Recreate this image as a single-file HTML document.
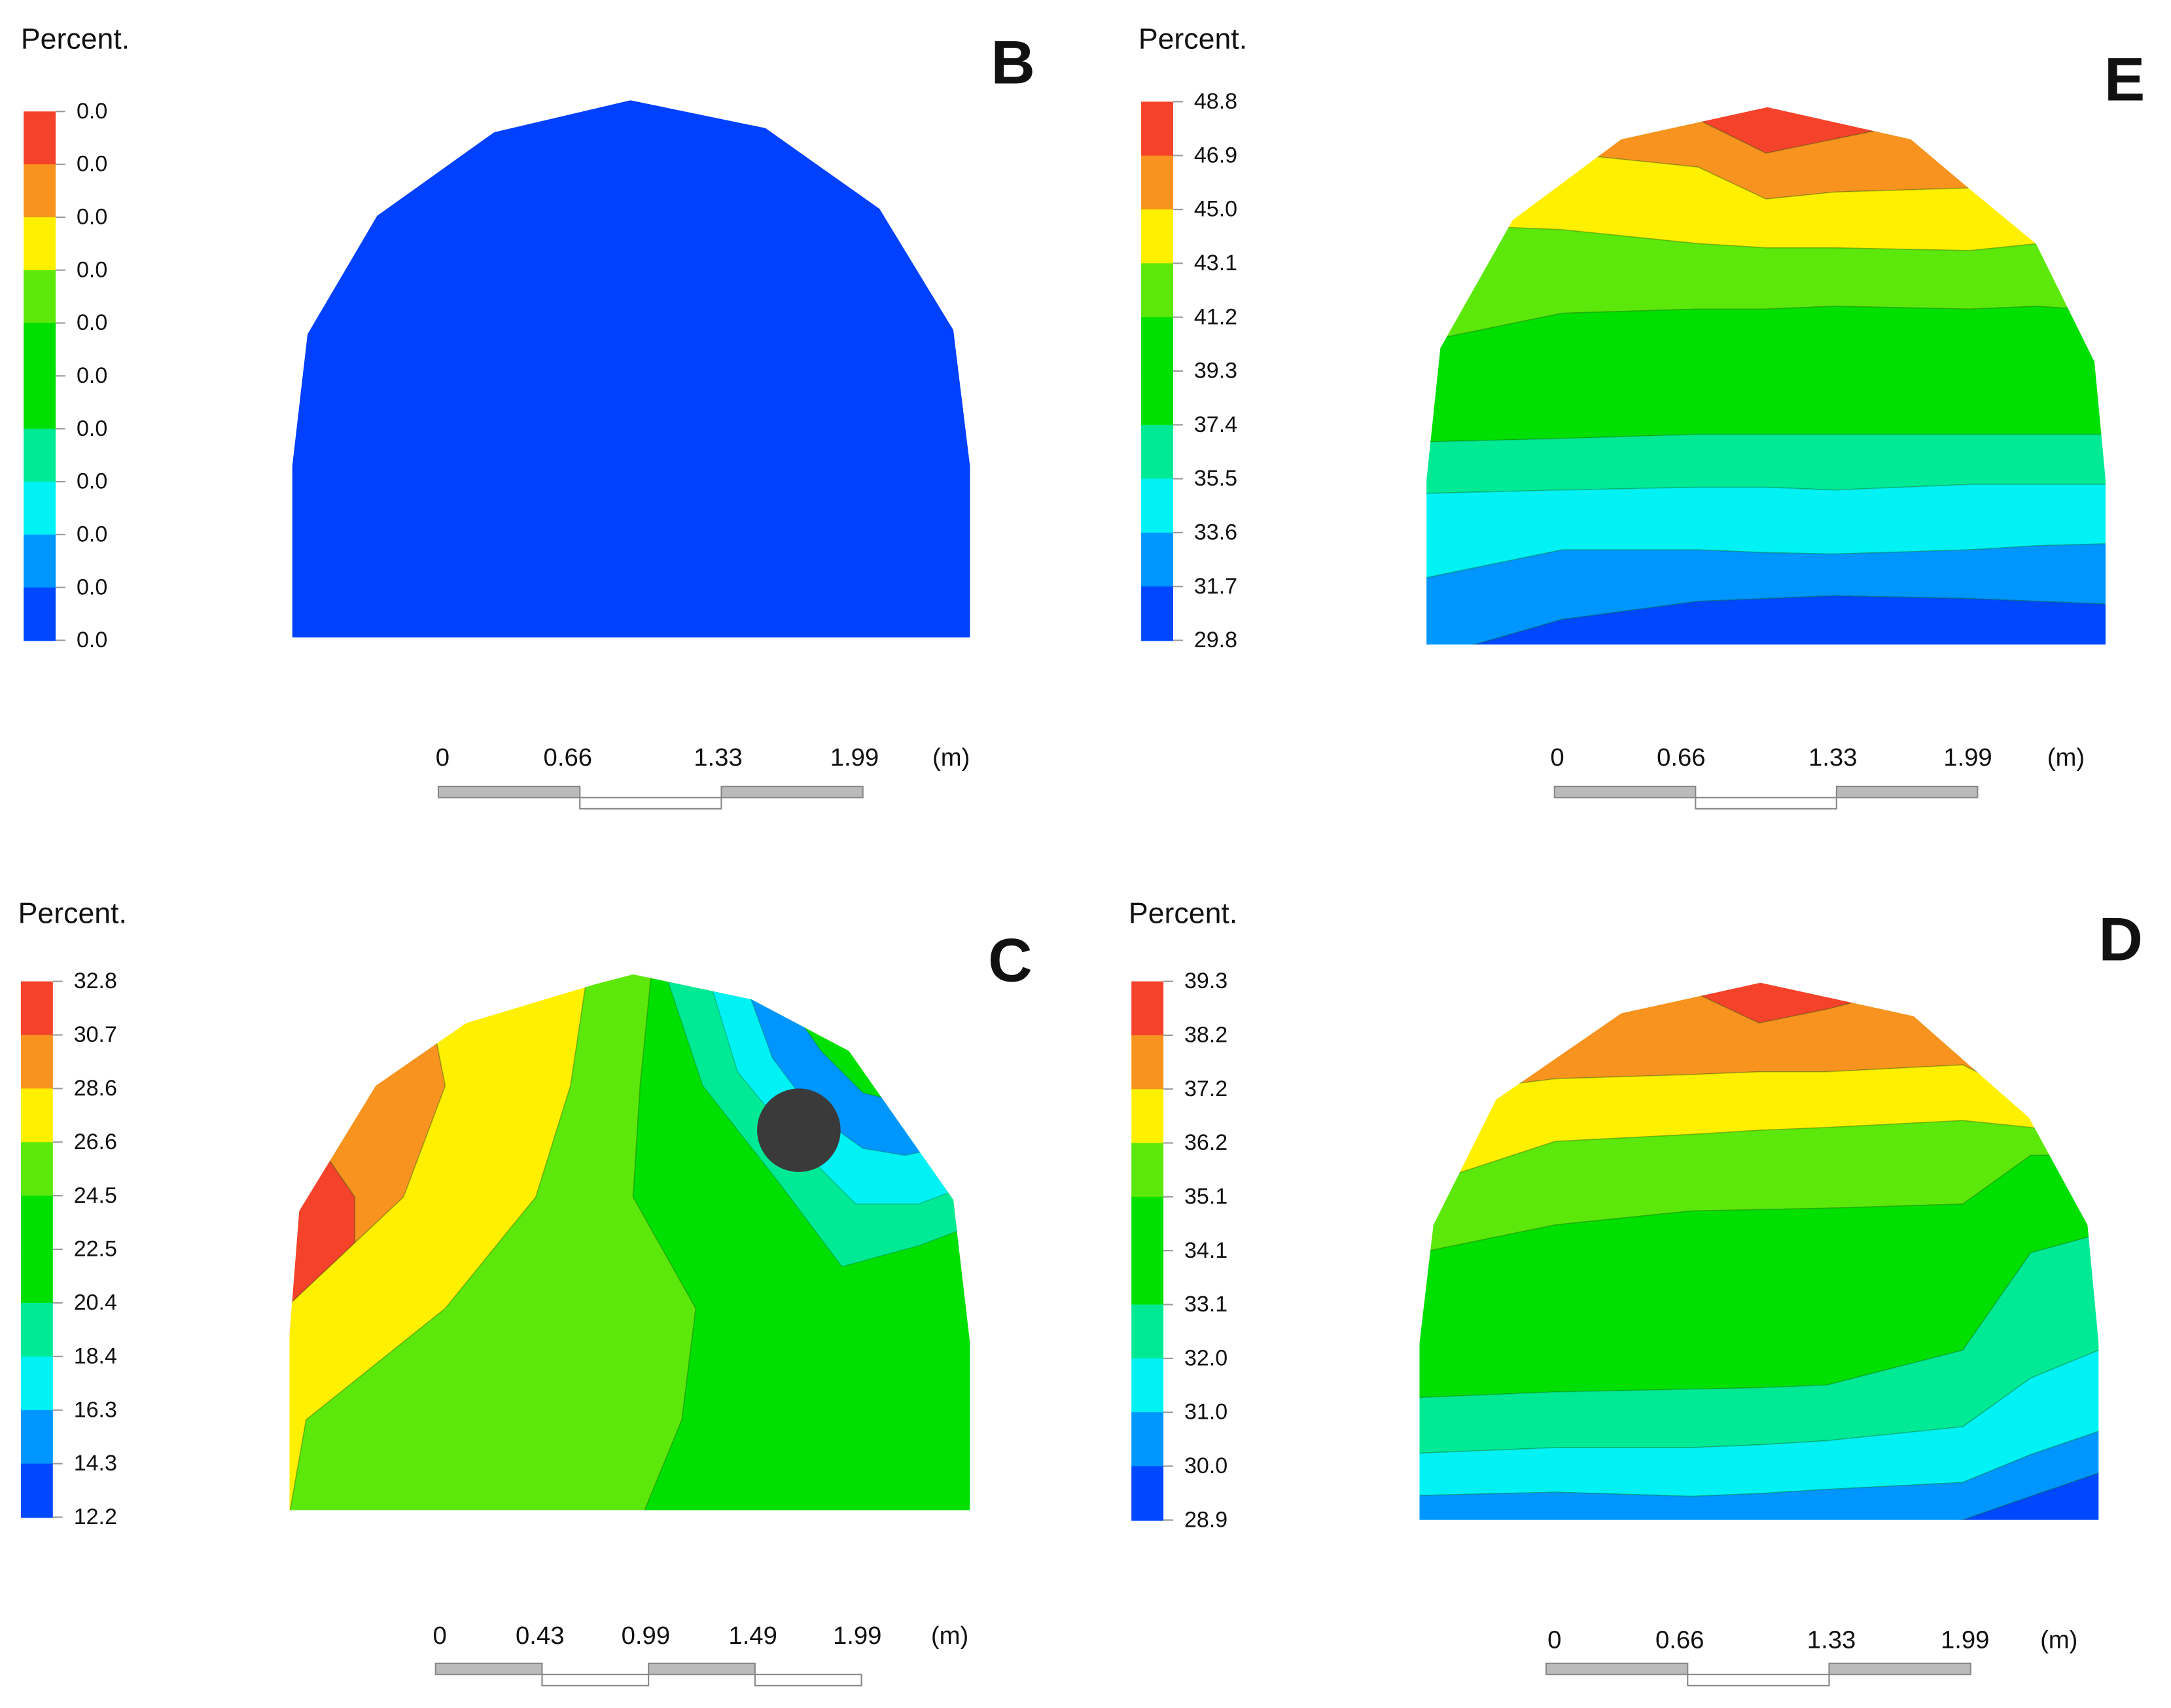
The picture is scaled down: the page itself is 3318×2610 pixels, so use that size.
<!DOCTYPE html>
<html><head><meta charset="utf-8"><style>
html,body{margin:0;padding:0;background:#fff;overflow:hidden;width:3318px;height:2610px}
svg{display:block}
text{font-family:"Liberation Sans",sans-serif}
</style></head><body>
<svg id="fig" width="3318" height="2610" viewBox="0 0 1560 1227" xmlns="http://www.w3.org/2000/svg"></svg>
<script>
const COLORS=['#f5422a','#f7931e','#fff000','#5ce80a','#00e000','#00ea96','#00f2f5','#0096ff','#0048ff'];
const ticksB=['0.0','0.0','0.0','0.0','0.0','0.0','0.0','0.0','0.0','0.0','0.0'];
const ticksE=['48.8','46.9','45.0','43.1','41.2','39.3','37.4','35.5','33.6','31.7','29.8'];
const ticksC=['32.8','30.7','28.6','26.6','24.5','22.5','20.4','18.4','16.3','14.3','12.2'];
const ticksD=['39.3','38.2','37.2','36.2','35.1','34.1','33.1','32.0','31.0','30.0','28.9'];
const fracs=[0,0.2,0.4,0.5,0.6,0.8,0.9,1];
const bandsE=[[60,60,86,110,100,80,60,60],[100,110,120,143,138,135,130,120],[160,165,175,178,178,180,175,175],[250,225,222,222,220,222,220,225],[318,315,312,312,312,312,312,312],[355,352,350,350,352,348,348,348],[420,395,395,397,398,395,392,390],[480,445,432,430,428,430,432,435]];
const bandsD=[[690,690,712,735,725,700,690,690],[790,775,772,770,770,765,790,800],[860,820,815,812,810,805,810,820],[905,880,870,869,868,865,830,830],[1005,1000,998,997,995,970,900,880],[1045,1040,1040,1038,1035,1025,990,960],[1075,1072,1075,1073,1070,1065,1045,1020],[1100,1100,1100,1100,1100,1092,1075,1050]];
const ysC=[700,780,860,940,1020,1085];
const bandsC=[[200,200,255,255,200,200],[300,320,290,205,200,200],[425,410,385,320,220,205],[470,460,455,500,490,455]];
const svg=document.getElementById('fig');
const NS='http://www.w3.org/2000/svg';
function mk(tag,attrs,parent){const e=document.createElementNS(NS,tag);for(const k in attrs)e.setAttribute(k,attrs[k]);(parent||svg).appendChild(e);return e;}
function txt(x,y,s,size,parent,extra){const t=mk('text',Object.assign({x:x,y:y,'font-size':size,fill:'#111'},extra||{}),parent);t.textContent=s;return t;}
const defs=mk('defs',{});
function outline(id,pts){const cp=mk('clipPath',{id:id},defs);mk('polygon',{points:pts.map(p=>p.join(',')).join(' ')},cp);}
outline('clipB',[[210,458],[210,335],[221,240],[271,155],[355,95],[453,72],[550,92],[632,150],[685,237],[697,335],[697,458]]);
outline('clipE',[[1025,463],[1025,345],[1035,250],[1087,158],[1165,100],[1270,77],[1373,100],[1418,138],[1463,175],[1505,260],[1513,345],[1513,463]]);
outline('clipC',[[208,1085],[208,960],[215,870],[270,780],[335,735],[428,707],[455,700],[540,718],[610,755],[685,862],[697,965],[697,1085]]);
outline('clipD',[[1020,1092],[1020,965],[1030,880],[1075,790],[1165,728],[1265,706],[1375,730],[1458,803],[1500,880],[1508,965],[1508,1092]]);

function colorbar(g,x,top,bot,ticks,title,ty){
  const tt=txt(x-2,ty,title,21,g);
  
  const seg=(bot-top)/10;
  const idx=[0,1,2,3,4,4,5,6,7,8];
  for(let i=0;i<10;i++){const r=mk('rect',{x:x,y:top+i*seg,width:23,height:seg+0.5,fill:COLORS[idx[i]]},g);
    
    }
  ticks.forEach((t,i)=>{const y=top+i*seg;mk('line',{x1:x+23,x2:x+30,y1:y,y2:y,stroke:'#999','stroke-width':1},g);
    const l=txt(x+38,y+5,t,16,g);
    
    });
}
function hBands(g,clip,x0,x1,bands){
  const cg=mk('g',{'clip-path':'url(#'+clip+')'},g);
  const X=(f,k)=>x0+(f-(k==0?0.05:0)+(k==fracs.length-1?0.05:0))*(x1-x0);
  for(let i=0;i<=bands.length;i++){
    const upper=i===0?fracs.map(()=>0):bands[i-1];
    const lower=i===bands.length?fracs.map(()=>2000):bands[i];
    const pts=fracs.map((f,k)=>[X(f,k),upper[k]]).concat(fracs.map((f,k)=>[X(f,k),lower[k]]).reverse());
    const p=mk('polygon',{points:pts.map(q=>q.join(',')).join(' '),fill:COLORS[i],stroke:'rgba(0,80,0,0.25)','stroke-width':0.8},cg);
    
    
  }
}
function scalebar(g,x0,x1,y,labels,lx,ly){
  const n=labels.length-1,w=(x1-x0)/n;
  for(let i=0;i<n;i++){mk('rect',{x:x0+i*w,y:i%2?y+8:y,width:w,height:8,fill:i%2?'#fff':'#bbb',stroke:'#888','stroke-width':1},g);}
  labels.forEach((s,i)=>txt(lx[i],ly,s,18,g,{'text-anchor':'middle'}));
  txt(x1+50,ly,'(m)',18,g);
}
function letter(g,x,y,s){const t=txt(x,y,s,44,g,{'font-weight':'bold'});
  
  }

let g=mk('g',{});


colorbar(g,17,80,460,ticksB,'Percent.',35);
let r=mk('rect',{x:200,y:60,width:510,height:410,fill:'#0040ff','clip-path':'url(#clipB)'},g);


letter(g,712,60,'B');
scalebar(g,315,620,565,['0','0.66','1.33','1.99'],[318,408,516,614],550);

g=mk('g',{});


colorbar(g,820,73,460,ticksE,'Percent.',35);
hBands(g,'clipE',1025,1513,bandsE);
letter(g,1512,72,'E');
scalebar(g,1117,1421,565,['0','0.66','1.33','1.99'],[1119,1208,1317,1414],550);

g=mk('g',{});


colorbar(g,15,705,1090,ticksC,'Percent.',663);
{
  const cg=mk('g',{'clip-path':'url(#clipC)'},g);
  for(let i=0;i<=bandsC.length;i++){
    const left=i===0?ysC.map(()=>0):bandsC[i-1];
    const right=i===bandsC.length?ysC.map(()=>800):bandsC[i];
    const pts=ysC.map((y,k)=>[left[k],y+(k==0?-20:0)+(k==ysC.length-1?20:0)]).concat(ysC.map((y,k)=>[right[k],y+(k==0?-20:0)+(k==ysC.length-1?20:0)]).reverse());
    const p=mk('polygon',{points:pts.map(q=>q.join(',')).join(' '),fill:COLORS[i],stroke:'rgba(0,80,0,0.25)','stroke-width':0.8},cg);
    
    
  }
  const spots=[[5,'515,712 550,760 600,812 640,835 700,830 700,880 660,895 605,910 560,850 505,780 480,705'],
               [6,'540,712 570,760 610,800 650,810 700,810 700,850 660,865 615,865 575,825 530,770 510,705'],
               [7,'560,712 590,755 620,785 660,795 700,790 700,820 650,830 620,825 585,800 555,760 535,705'],
               [8,'585,712 610,750 640,785 700,770 700,700 600,700']];
  spots.forEach(s=>{const p=mk('polygon',{points:s[1],fill:COLORS[s[0]],stroke:'rgba(0,80,0,0.25)','stroke-width':0.8},cg);
    
    });
  const c=mk('circle',{cx:574,cy:812,r:30,fill:'#3a3a3a'},g);
  
  
}
letter(g,710,705,'C');
scalebar(g,313,619,1195,['0','0.43','0.99','1.49','1.99'],[316,388,464,541,616],1181);

g=mk('g',{});


colorbar(g,813,705,1092,ticksD,'Percent.',663);
hBands(g,'clipD',1020,1508,bandsD);
letter(g,1508,690,'D');
scalebar(g,1111,1416,1195,['0','0.66','1.33','1.99'],[1117,1207,1316,1412],1184);
</script>
</body></html>
